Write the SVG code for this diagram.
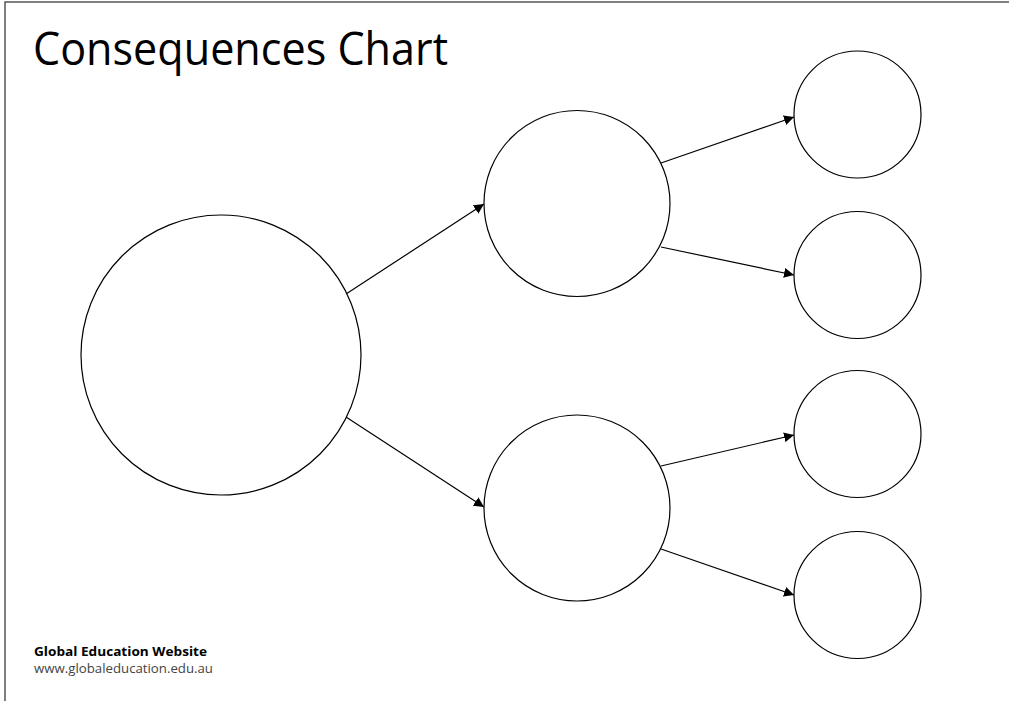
<svg xmlns="http://www.w3.org/2000/svg" width="1009" height="701" viewBox="0 0 1009 701">
<style>
  .node { fill: #fff; stroke: #000; stroke-width: 1.2; }
  .conn { stroke: #000; stroke-width: 1.2; fill: none; marker-end: url(#arr); }
  .frame { stroke: #555; stroke-width: 1.5; fill: none; }
  .title { font-family: "Open Sans", "Noto Sans", sans-serif; font-size: 45px; fill: #000; }
  .org { font-family: "Open Sans", "Noto Sans", sans-serif; font-size: 13px; font-weight: bold; fill: #000; }
  .url { font-family: "Open Sans", "Noto Sans", sans-serif; font-size: 13px; fill: #444; }
</style>
<defs>
  <marker id="arr" viewBox="0 0 10 10" refX="10" refY="5" markerWidth="10" markerHeight="10" markerUnits="userSpaceOnUse" orient="auto">
    <path d="M0,0 L10,5 L0,10 z" fill="#000"/>
  </marker>
</defs>
<rect width="1009" height="701" fill="#fff"/>
<path class="frame" d="M5,701 L5,2 L1009,2"/>
<text class="title" x="33" y="65" textLength="415" lengthAdjust="spacingAndGlyphs">Consequences Chart</text>
<g id="connectors">
  <line class="conn" x1="346" y1="294" x2="484" y2="204"/>
  <line class="conn" x1="346" y1="417" x2="484" y2="507"/>
  <line class="conn" x1="661" y1="163" x2="794" y2="117"/>
  <line class="conn" x1="661" y1="247" x2="794" y2="275"/>
  <line class="conn" x1="661" y1="466" x2="794" y2="435"/>
  <line class="conn" x1="661" y1="549" x2="794" y2="595"/>
</g>
<g id="root"><circle class="node" cx="221" cy="355" r="140"/></g>
<g id="mid1"><circle class="node" cx="577" cy="203.5" r="93"/></g>
<g id="mid2"><circle class="node" cx="577" cy="508" r="93"/></g>
<g id="leaf1"><circle class="node" cx="857.5" cy="114.5" r="63.5"/></g>
<g id="leaf2"><circle class="node" cx="857.5" cy="275" r="63.5"/></g>
<g id="leaf3"><circle class="node" cx="857.5" cy="434" r="63.5"/></g>
<g id="leaf4"><circle class="node" cx="857.5" cy="595" r="63.5"/></g>
<g id="footer">
  <text class="org" x="34" y="656" textLength="173" lengthAdjust="spacingAndGlyphs">Global Education Website</text>
  <text class="url" x="34" y="673" textLength="179" lengthAdjust="spacingAndGlyphs">www.globaleducation.edu.au</text>
</g>
</svg>
